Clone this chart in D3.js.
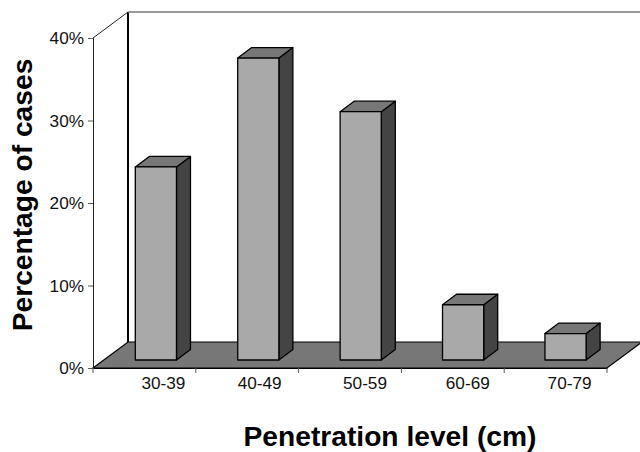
<!DOCTYPE html>
<html>
<head>
<meta charset="utf-8">
<script src="https://cdn.jsdelivr.net/npm/d3@7"></script>
<style>
html, body { margin: 0; padding: 0; background: #fff; }
text { font-family: "Liberation Sans", Arial, sans-serif; fill: #111; }
.axis text { font-size: 17.2px; }
.title { font-size: 28.2px; font-weight: bold; fill: #000; }
</style>
</head>
<body>
<div id="chart"></div>
<script>
const categories = ["30-39", "40-49", "50-59", "60-69", "70-79"];
const percentages = [23.4, 36.6, 30.1, 6.7, 3.2];
const yTicks = [0, 10, 20, 30, 40];

const width = 640;
const height = 452;
const wall = { dx: 35, dy: -26 };    // depth of the chart box
const depth = { dx: 14, dy: -10.5 }; // depth of a bar
const barLift = 8;                   // bars stand a little behind the front edge
const labelShift = [19, 12.5, 15, 15, 14]; // x labels sit off-centre in the original

const x = d3.scaleBand().domain(categories).range([93, 607]);
const barX = d3.scaleBand().domain(categories).range([135.3, 586.1]).paddingInner(0.598);
const y = d3.scaleLinear().domain([0, 40]).range([368, 38]);

const svg = d3.select("#chart")
    .append("svg")
    .attr("width", width)
    .attr("height", height)
    .style("display", "block");

const x0 = x.range()[0], x1 = x.range()[1];
const y0 = y(0), yTop = y(40);

// floor
svg.append("path")
    .attr("d", `M${x0},${y0} L${x0 + wall.dx},${y0 + wall.dy} L${x1 + wall.dx},${y0 + wall.dy} L${x1},${y0} Z`)
    .attr("fill", "#777")
    .attr("stroke", "#000")
    .attr("stroke-width", 1.2);

// back wall
svg.append("line")
    .attr("x1", x0 + wall.dx).attr("x2", x0 + wall.dx)
    .attr("y1", yTop + wall.dy).attr("y2", y0 + wall.dy)
    .attr("stroke", "#000")
    .attr("stroke-width", 2);

svg.append("line")
    .attr("x1", x0 + wall.dx).attr("x2", width)
    .attr("y1", yTop + wall.dy).attr("y2", yTop + wall.dy)
    .attr("stroke", "#777")
    .attr("stroke-width", 1.5);

svg.append("line")
    .attr("x1", x0).attr("x2", x0 + wall.dx)
    .attr("y1", yTop).attr("y2", yTop + wall.dy)
    .attr("stroke", "#222")
    .attr("stroke-width", 1);

// bars
const bars = svg.selectAll(".bar")
    .data(categories.map((c, i) => ({ cat: c, value: percentages[i] })))
    .enter()
    .append("g")
    .attr("class", "bar")
    .attr("stroke", "#000")
    .attr("stroke-width", 1.3)
    .attr("stroke-linejoin", "round");

const w = barX.bandwidth();
const bottom = y0 - barLift;

bars.append("path")  // side
    .attr("fill", "#444")
    .attr("d", d => {
        const r = barX(d.cat) + w, t = y(d.value) - barLift;
        return `M${r},${t} L${r + depth.dx},${t + depth.dy} L${r + depth.dx},${bottom + depth.dy} L${r},${bottom} Z`;
    });

bars.append("path")  // top
    .attr("fill", "#777")
    .attr("d", d => {
        const l = barX(d.cat), t = y(d.value) - barLift;
        return `M${l},${t} L${l + depth.dx},${t + depth.dy} L${l + w + depth.dx},${t + depth.dy} L${l + w},${t} Z`;
    });

bars.append("rect")  // front
    .attr("fill", "#a9a9a9")
    .attr("x", d => barX(d.cat))
    .attr("y", d => y(d.value) - barLift)
    .attr("width", w)
    .attr("height", d => bottom - (y(d.value) - barLift));

// axes
svg.append("g")
    .attr("class", "axis")
    .attr("transform", `translate(${x0},0)`)
    .call(d3.axisLeft(y).tickValues(yTicks).tickSize(5).tickPadding(4).tickFormat(d => d + "%"))
    .call(g => g.selectAll("text").attr("font-family", null).attr("font-size", null))
    .call(g => g.selectAll("path").attr("stroke", "#222"))
    .call(g => g.selectAll("line").attr("stroke", "#555"));

const xAxis = svg.append("g")
    .attr("class", "axis")
    .attr("transform", `translate(0,${y0})`)
    .call(d3.axisBottom(x).tickSize(0).tickPadding(9))
    .call(g => g.selectAll("text")
        .attr("font-family", null)
        .attr("font-size", null)
        .attr("dx", (d, i) => labelShift[i]))
    .call(g => g.selectAll("path").attr("stroke", "#000"))
    .call(g => g.selectAll("line").remove());

xAxis.selectAll(".sep")
    .data([...categories.map(c => x(c)), x1])
    .enter()
    .append("line")
    .attr("class", "sep")
    .attr("x1", d => d).attr("x2", d => d)
    .attr("y1", 0).attr("y2", 5)
    .attr("stroke", "#555");

// titles
svg.append("text")
    .attr("class", "title")
    .attr("text-anchor", "middle")
    .attr("x", 390)
    .attr("y", 446)
    .text("Penetration level (cm)");

svg.append("text")
    .attr("class", "title")
    .attr("text-anchor", "middle")
    .attr("transform", "translate(32,195) rotate(-90)")
    .text("Percentage of cases");
</script>
</body>
</html>
